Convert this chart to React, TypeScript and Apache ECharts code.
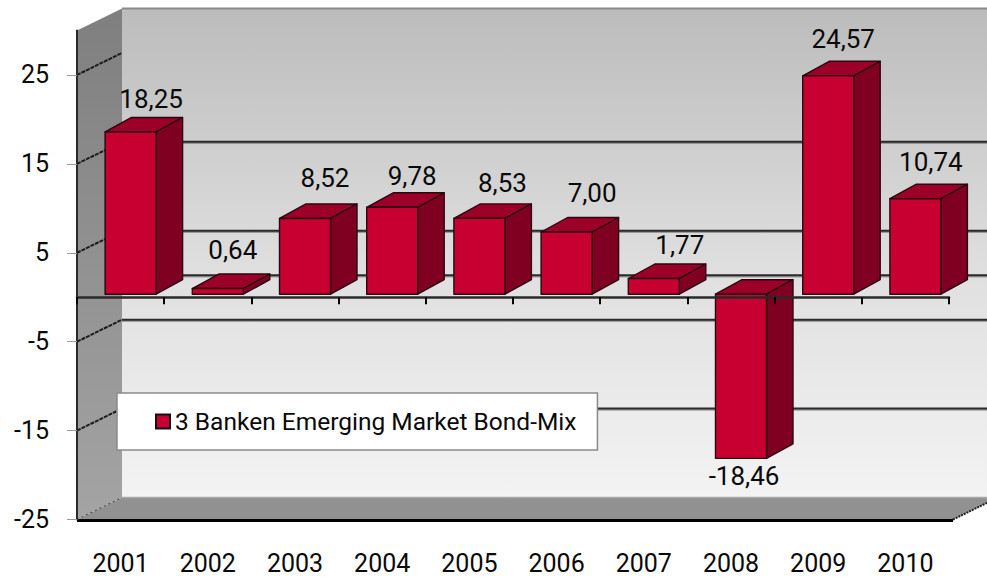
import React, { useEffect, useRef } from "react";
import * as echarts from "echarts";

const categories = ["2001", "2002", "2003", "2004", "2005", "2006", "2007", "2008", "2009", "2010"];
const seriesName = "3 Banken Emerging Market Bond-Mix";
const fundReturns = [18.25, 0.64, 8.52, 9.78, 8.53, 7.0, 1.77, -18.46, 24.57, 10.74];
const yTickValues = [-25, -15, -5, 5, 15, 25];
const wallGridValues = [15, 5, 0, -5, -15];
const labelShiftX = [20.5, 15, 20, 20, 23, 25.5, 26, 3, 15, 15.5];
const labelShiftY = [-33, -39, -40, -31, -35, -39, -33, 18, -37, -37];

const FONT = "Roboto, sans-serif";
const FONT_SIZE = 25;
const LABEL_SIZE = 26;
const LEGEND_SIZE = 24.5;
const WALL_DX = 45;
const WALL_DY = -22;
const BAR_W = 51;
const BAR_DX = 26.5;
const BAR_DY = -14.5;
const BAR_SHIFT_X = 10;
const BAR_SHIFT_Y = -3;
const OUTLINE = "#2b0610";

const renderWalls = (params: any, api: any) => {
  const cs = params.coordSys;
  const L = cs.x;
  const R = cs.x + cs.width + 4;
  const T = cs.y;
  const B = cs.y + cs.height;
  const children: any[] = [
    {
      type: "polygon",
      shape: { points: [[L + WALL_DX, T + WALL_DY], [R + WALL_DX, T + WALL_DY], [R + WALL_DX, B + WALL_DY], [L + WALL_DX, B + WALL_DY]] },
      style: {
        fill: new echarts.graphic.LinearGradient(0, 0, 0, 1, [
          { offset: 0, color: "#bcbcbc" },
          { offset: 0.55, color: "#e0e0e0" },
          { offset: 1, color: "#f3f3f3" },
        ]),
      },
    },
    {
      type: "polygon",
      shape: { points: [[L, T], [L + WALL_DX, T + WALL_DY], [L + WALL_DX, B + WALL_DY], [L, B]] },
      style: {
        fill: new echarts.graphic.LinearGradient(0, 0, 0, 1, [
          { offset: 0, color: "#7f7f7f" },
          { offset: 1, color: "#a4a4a4" },
        ]),
      },
    },
    {
      type: "polygon",
      shape: { points: [[L, B], [L + WALL_DX, B + WALL_DY], [R + WALL_DX, B + WALL_DY], [R, B]] },
      style: { fill: "#919191" },
    },
    { type: "line", shape: { x1: L + WALL_DX, y1: T + WALL_DY, x2: R + WALL_DX, y2: T + WALL_DY }, style: { stroke: "#8a8a8a", lineWidth: 2 } },
    { type: "line", shape: { x1: L + WALL_DX, y1: B + WALL_DY, x2: R + WALL_DX, y2: B + WALL_DY }, style: { stroke: "#a8a8a8", lineWidth: 1.5 } },
    { type: "line", shape: { x1: L, y1: B + 1, x2: R, y2: B + 1 }, style: { stroke: "#000000", lineWidth: 3 } },
    { type: "line", shape: { x1: R, y1: B, x2: R + WALL_DX, y2: B + WALL_DY }, style: { stroke: "#222222", lineWidth: 2, lineDash: [2, 1] } },
  ];
  wallGridValues.forEach((v) => {
    const y = api.coord([0, v])[1] + WALL_DY;
    children.push({ type: "line", shape: { x1: L + WALL_DX, y1: y + 1.2, x2: R + WALL_DX, y2: y + 1.2 }, style: { stroke: "rgba(90,90,90,0.5)", lineWidth: 2 } });
    children.push({ type: "line", shape: { x1: L + WALL_DX, y1: y, x2: R + WALL_DX, y2: y }, style: { stroke: "#2a2a2a", lineWidth: 2 } });
  });
  yTickValues.forEach((v) => {
    const y = api.coord([0, v])[1];
    const faint = v === yTickValues[0];
    children.push({
      type: "line",
      shape: { x1: L, y1: y, x2: L + WALL_DX, y2: y + WALL_DY },
      style: { stroke: faint ? "#555555" : "#1c1c1c", lineWidth: faint ? 1.2 : 2, lineDash: faint ? [2, 3] : [4, 1] },
    });
  });
  return { type: "group", children };
};

const renderBar = (params: any, api: any) => {
  const idx = api.value(0);
  const v = api.value(1);
  const [cx, vy] = api.coord([idx, v]);
  const zeroY = api.coord([idx, 0])[1];
  const x0 = cx + BAR_SHIFT_X - BAR_W / 2;
  const x1 = x0 + BAR_W;
  const top = Math.min(vy, zeroY) + BAR_SHIFT_Y;
  const bot = Math.max(vy, zeroY) + BAR_SHIFT_Y;
  const stroke = { stroke: OUTLINE, lineWidth: 1.4, lineJoin: "round" };
  const text = v.toFixed(2).replace(".", ",");
  return {
    type: "group",
    children: [
      {
        type: "polygon",
        shape: { points: [[x0, top], [x0 + BAR_DX, top + BAR_DY], [x1 + BAR_DX, top + BAR_DY], [x1, top]] },
        style: { fill: "#9c0029", ...stroke },
      },
      {
        type: "polygon",
        shape: { points: [[x1, top], [x1 + BAR_DX, top + BAR_DY], [x1 + BAR_DX, bot + BAR_DY], [x1, bot]] },
        style: { fill: "#7f0020", ...stroke },
      },
      {
        type: "rect",
        shape: { x: x0, y: top, width: BAR_W, height: bot - top },
        style: { fill: "#c80032", ...stroke },
      },
      {
        type: "text",
        x: cx + BAR_SHIFT_X + labelShiftX[idx],
        y: (v >= 0 ? top : bot) + labelShiftY[idx],
        style: { text, fill: "#0a0a0a", font: `${LABEL_SIZE}px ${FONT}`, align: "center", verticalAlign: "middle" },
      },
    ],
  };
};

export default function App() {
  const ref = useRef<HTMLDivElement>(null);
  useEffect(() => {
    const chart = echarts.init(ref.current!, undefined, { renderer: "svg" });
    chart.setOption({
      animation: false,
      backgroundColor: "#ffffff",
      textStyle: { fontFamily: FONT },
      grid: { left: 77, top: 30.5, width: 872, height: 489, containLabel: false },
      legend: {
        data: [seriesName],
        left: 117,
        top: 393,
        z: 20,
        orient: "horizontal",
        backgroundColor: "#ffffff",
        borderColor: "#8a8a8a",
        borderWidth: 1.5,
        borderRadius: 0,
        padding: [16, 21, 16, 38],
        itemWidth: 14,
        itemHeight: 14,
        itemGap: 0,
        selectedMode: false,
        icon: "rect",
        itemStyle: { color: "#c80032", borderColor: "#111111", borderWidth: 2 },
        textStyle: { color: "#0a0a0a", fontSize: LEGEND_SIZE, fontFamily: FONT, padding: [0, 0, 0, 0] },
      },
      xAxis: [
        {
          type: "category",
          data: categories,
          position: "bottom",
          axisLine: { show: false, onZero: false },
          axisTick: { show: false },
          axisLabel: { color: "#0a0a0a", fontSize: FONT_SIZE, fontFamily: FONT, margin: 31 },
          splitLine: { show: false },
        },
        {
          type: "category",
          data: categories,
          position: "bottom",
          z: 10,
          axisLine: { show: true, onZero: true, lineStyle: { color: "#2a2a2a", width: 2.5 } },
          axisTick: { show: true, length: 7, lineStyle: { color: "#000000", width: 2 } },
          axisLabel: { show: false },
          splitLine: { show: false },
        },
      ],
      yAxis: {
        type: "value",
        min: -25,
        max: 30,
        z: 10,
        axisLine: { show: true, onZero: false, lineStyle: { color: "#2a2a2a", width: 2 } },
        axisTick: { show: true, length: 10, customValues: yTickValues, lineStyle: { color: "#9a9a9a", width: 1 } },
        axisLabel: { color: "#0a0a0a", fontSize: FONT_SIZE, fontFamily: FONT, margin: 28, customValues: yTickValues, formatter: (v: number) => String(v) },
        splitLine: { show: false },
      },
      series: [
        {
          name: "walls",
          type: "custom",
          z: 1,
          silent: true,
          xAxisIndex: 0,
          renderItem: renderWalls,
          data: [[0, 0]],
          encode: { x: 0, y: 1 },
          clip: false,
        },
        {
          name: seriesName,
          type: "custom",
          z: 5,
          xAxisIndex: 0,
          itemStyle: { color: "#c80032" },
          renderItem: renderBar,
          data: fundReturns.map((v, i) => [i, v]),
          encode: { x: 0, y: 1 },
          clip: false,
        },
      ],
    });
    return () => chart.dispose();
  }, []);
  return <div ref={ref} style={{ position: "absolute", left: 0, top: 0, width: 987, height: 579 }} />;
}
